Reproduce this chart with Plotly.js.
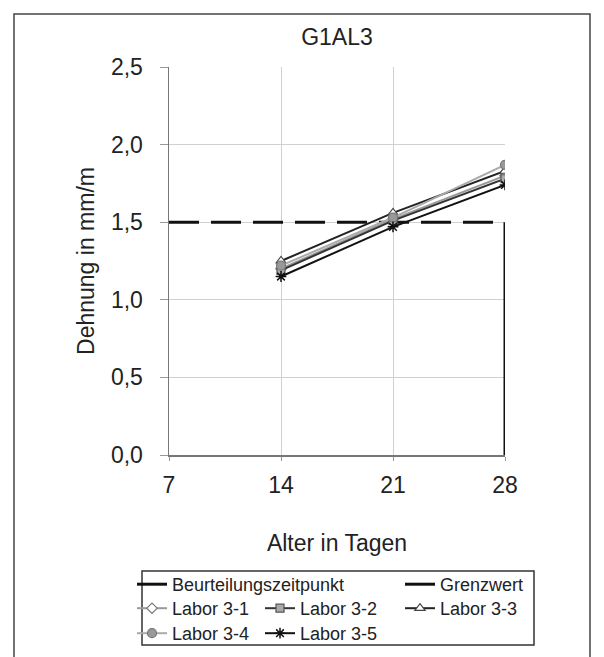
<!DOCTYPE html>
<html>
<head>
<meta charset="utf-8">
<script src="https://cdn.plot.ly/plotly-3.0.1.min.js"></script>
<style>html,body{margin:0;padding:0;background:#fff;}#chart{width:604px;height:657px;}</style>
</head>
<body>
<div id="chart"></div>
<script>
// ---- data ----
const days = [14, 21, 28];
const labor31 = [1.20, 1.52, 1.80];
const labor32 = [1.19, 1.51, 1.78];
const labor33 = [1.25, 1.56, 1.83];
const labor34 = [1.22, 1.53, 1.87];
const labor35 = [1.15, 1.47, 1.74];
const grenzwert = 1.5;
const grenzwertX = [7, 28];
const beurteilungszeitpunkt = 28;
const xTicks = [7, 14, 21, 28];
const yTicks = [0, 0.5, 1.0, 1.5, 2.0, 2.5];
const yTickLabels = ['0,0', '0,5', '1,0', '1,5', '2,0', '2,5'];

const FONT = 'Liberation Sans, Arial, sans-serif';
const W = 604, H = 657;
const px2x = p => (p - 169) / 336;
const px2y = p => (455 - p) / 388;

const traces = [
  {name: 'Beurteilungszeitpunkt', x: [beurteilungszeitpunkt, beurteilungszeitpunkt], y: [0, grenzwert],
   mode: 'lines', line: {color: '#111', width: 3}, legend: 'legend'},
  {name: 'Grenzwert', x: grenzwertX, y: [grenzwert, grenzwert],
   mode: 'lines', line: {color: '#111', width: 3, dash: '30px,12px'}, legend: 'legend2'},
  {name: 'Labor 3-1', x: days, y: labor31, mode: 'lines+markers',
   line: {color: '#9a9a9a', width: 2},
   marker: {symbol: 'diamond', size: 8, color: '#fff', line: {color: '#777', width: 1.2}},
   legend: 'legend3'},
  {name: 'Labor 3-2', x: days, y: labor32, mode: 'lines+markers',
   line: {color: '#333', width: 2},
   marker: {symbol: 'square', size: 8, color: '#aaa', line: {color: '#555', width: 1.2}},
   legend: 'legend4'},
  {name: 'Labor 3-3', x: days, y: labor33, mode: 'lines+markers',
   line: {color: '#222', width: 2},
   marker: {symbol: 'triangle-up', size: 9, color: '#fff', line: {color: '#444', width: 1.2}},
   legend: 'legend5'},
  {name: 'Labor 3-4', x: days, y: labor34, mode: 'lines+markers',
   line: {color: '#aaa', width: 2},
   marker: {symbol: 'circle', size: 9, color: '#999', line: {color: '#777', width: 1.2}},
   legend: 'legend6'},
  {name: 'Labor 3-5', x: days, y: labor35, mode: 'lines+markers',
   line: {color: '#111', width: 2},
   marker: {symbol: 'asterisk-open', size: 9, color: '#111', line: {color: '#111', width: 1.5}},
   legend: 'legend7'}
];

const legendBase = {
  orientation: 'v', xanchor: 'left', yanchor: 'top',
  bgcolor: 'rgba(0,0,0,0)',
  borderwidth: 0, font: {family: FONT, size: 18, color: '#222'}, tracegroupgap: 0,
  itemwidth: 30, traceorder: 'normal'
};
const leg = (xp, yp) => Object.assign({}, legendBase, {x: px2x(xp), y: px2y(yp)});
const col1 = 132, col2 = 260, col3 = 400;
const row1 = 566, row2 = 590, row3 = 615;

const layout = {
  width: W, height: H,
  margin: {l: 169, r: 99, t: 67, b: 202, autoexpand: false},
  paper_bgcolor: '#fff', plot_bgcolor: '#fff',
  separators: ',.',
  font: {family: FONT, color: '#222'},
  title: {text: 'G1AL3', font: {family: FONT, size: 23, color: '#222'},
          x: 0.5, xref: 'paper', y: 1 - 37 / H, yanchor: 'middle'},
  xaxis: {
    range: [7, 28], tickmode: 'array', tickvals: xTicks,
    showgrid: true, gridcolor: '#d0d0d0', gridwidth: 1,
    showline: true, linecolor: '#777', linewidth: 1.5,
    ticks: 'outside', ticklen: 4, tickcolor: '#999',
    tickfont: {family: FONT, size: 23, color: '#222'},
    ticklabelstandoff: 5,
    zeroline: false, automargin: false,
    title: {text: 'Alter in Tagen', font: {family: FONT, size: 23, color: '#222'}, standoff: 38}
  },
  yaxis: {
    range: [0, 2.5], tickmode: 'array', tickvals: yTicks, ticktext: yTickLabels,
    showgrid: true, gridcolor: '#d0d0d0', gridwidth: 1,
    showline: true, linecolor: '#777', linewidth: 1.5,
    ticks: 'outside', ticklen: 8, tickcolor: '#999',
    tickfont: {family: FONT, size: 23, color: '#222'},
    ticklabelstandoff: 12,
    zeroline: false, automargin: false,
    title: {text: 'Dehnung in mm/m', font: {family: FONT, size: 23, color: '#222'}, standoff: 10}
  },
  showlegend: true,
  legend: leg(col1, row1),
  legend2: leg(col3, row1),
  legend3: leg(col1, row2),
  legend4: leg(col2, row2),
  legend5: leg(col3, row2),
  legend6: leg(col1, row3),
  legend7: leg(col2, row3),
  shapes: [
    {type: 'rect', xref: 'paper', yref: 'paper', x0: px2x(14), x1: px2x(590), y0: px2y(14), y1: px2y(670),
     line: {color: '#444', width: 1.5}, fillcolor: 'rgba(0,0,0,0)', layer: 'below'},
    {type: 'rect', xref: 'paper', yref: 'paper', x0: px2x(142), x1: px2x(534), y0: px2y(571), y1: px2y(645),
     line: {color: '#333', width: 1.5}, fillcolor: 'rgba(0,0,0,0)', layer: 'below'}
  ]
};

Plotly.newPlot('chart', traces, layout, {staticPlot: true, displayModeBar: false});
</script>
</body>
</html>
